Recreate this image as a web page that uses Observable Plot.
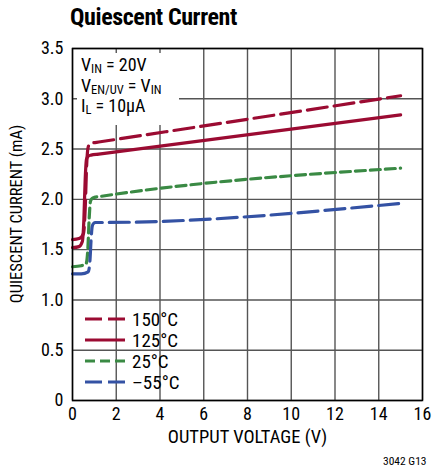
<!DOCTYPE html>
<html><head><meta charset="utf-8">
<script src="https://cdn.jsdelivr.net/npm/d3@7"></script>
<script src="https://cdn.jsdelivr.net/npm/@observablehq/plot@0.6"></script>
<style>
body{margin:0;background:#fff;font-family:"Liberation Sans Narrow","Roboto Condensed","Liberation Sans",sans-serif;}
#wrap{position:relative;width:435px;height:472px;}
#title{position:absolute;left:70px;top:3px;font-size:24px;font-weight:bold;letter-spacing:-0.4px;}
#note{position:absolute;left:77px;top:53px;width:102px;height:72px;background:#fff;font-size:18px;line-height:20.5px;padding-left:4px;box-sizing:border-box;padding-top:2px;white-space:nowrap;}
#note sub{font-size:12.5px;vertical-align:-2px;line-height:0;}
#legend{position:absolute;left:82px;top:309px;background:transparent;}
#chart{position:absolute;left:0;top:30px;}
#ylab{position:absolute;left:16px;top:214px;transform:translate(-50%,-50%) rotate(-90deg);font-size:16.5px;white-space:nowrap;}
#code{position:absolute;left:383px;top:454px;font-size:11.5px;}
</style></head>
<body>
<div id="wrap">
<div id="chart"></div>
<div id="title">Quiescent Current</div>
<div id="ylab">QUIESCENT CURRENT (mA)</div>
<div id="note">V<sub>IN</sub> = 20V<br>V<sub>EN/UV</sub> = V<sub>IN</sub><br>I<sub>L</sub> = 10µA</div>
<svg id="legend" width="130" height="84"></svg>
<div id="code">3042 G13</div>
</div>
<script>
const xTicks = [0,2,4,6,8,10,12,14,16];
const yTicks = [0,0.5,1.0,1.5,2.0,2.5,3.0,3.5];
const seriesNames = ["150°C","125°C","25°C","–55°C"];
const seriesColors = ["#9b0b32","#9b0b32","#3a8a44","#3452a4"];
const seriesDash = ["20,7","none","10,5","20,7"];
const t150x = [0, 0.3, 0.5, 0.58, 0.64, 0.7, 0.78, 0.9, 1.2, 15];
const t150y = [1.6, 1.61, 1.66, 1.9, 2.3, 2.5, 2.55, 2.56, 2.57, 3.03];
const t125x = [0, 0.3, 0.45, 0.52, 0.58, 0.64, 0.72, 0.85, 1.2, 15];
const t125y = [1.52, 1.53, 1.58, 1.8, 2.2, 2.4, 2.43, 2.44, 2.45, 2.84];
const t25x  = [0, 0.4, 0.62, 0.7, 0.76, 0.82, 0.9, 1.0, 1.3, 15];
const t25y  = [1.33, 1.34, 1.36, 1.5, 1.8, 1.98, 2.01, 2.02, 2.03, 2.31];
const tm55x = [0, 0.4, 0.72, 0.8, 0.85, 0.9, 0.96, 1.05, 1.3, 15];
const tm55y = [1.26, 1.26, 1.28, 1.4, 1.6, 1.73, 1.76, 1.77, 1.77, 1.96];

const xs = [t150x,t125x,t25x,tm55x], ys=[t150y,t125y,t25y,tm55y];
const data = [];
seriesNames.forEach((s,i)=>xs[i].forEach((x,j)=>data.push({s,x,y:ys[i][j]})));

const font = '"Liberation Sans Narrow","Roboto Condensed","Liberation Sans",sans-serif';
const marks = [
  Plot.gridX(xTicks,{stroke:"#555",strokeOpacity:1,strokeWidth:1.4}),
  Plot.gridY(yTicks,{stroke:"#555",strokeOpacity:1,strokeWidth:1.4}),
];
seriesNames.forEach((s,i)=>{
  marks.push(Plot.line(data.filter(d=>d.s===s),{x:"x",y:"y",stroke:seriesColors[i],strokeWidth:3.2,strokeDasharray:seriesDash[i]==="none"?null:seriesDash[i],curve:"monotone-x"}));
});
marks.push(Plot.frame({stroke:"#000",strokeWidth:1.5}));
marks.push(Plot.axisX(xTicks,{tickSize:0,tickPadding:7,fontSize:18,label:null}));
marks.push(Plot.axisY(yTicks,{tickSize:0,tickPadding:9,fontSize:18,label:null,tickFormat:d=>d===0?"0":d.toFixed(1)}));
marks.push(Plot.text(["OUTPUT VOLTAGE (V)"],{frameAnchor:"bottom",dy:42,fontSize:18.5,text:d=>d}));

const chart = Plot.plot({
  width:435,height:442,marginLeft:72,marginRight:13,marginTop:18,marginBottom:72,
  x:{domain:[0,16]},y:{domain:[0,3.5]},
  style:{fontFamily:font,color:"#000",background:"transparent"},
  marks
});
document.getElementById("chart").appendChild(chart);

// legend
const lg = d3.select("#legend");
seriesNames.forEach((s,i)=>{
  const y = 10 + i*21;
  lg.append("line").attr("x1",3).attr("x2",43).attr("y1",y).attr("y2",y)
    .attr("stroke",seriesColors[i]).attr("stroke-width",3.2)
    .attr("stroke-dasharray",seriesDash[i]==="none"?null:(i===2?"10,5":"17,6"));
  lg.append("text").attr("x",50).attr("y",y+7).attr("font-size","19px").attr("font-family",font).text(s);
});
</script>
</body></html>
